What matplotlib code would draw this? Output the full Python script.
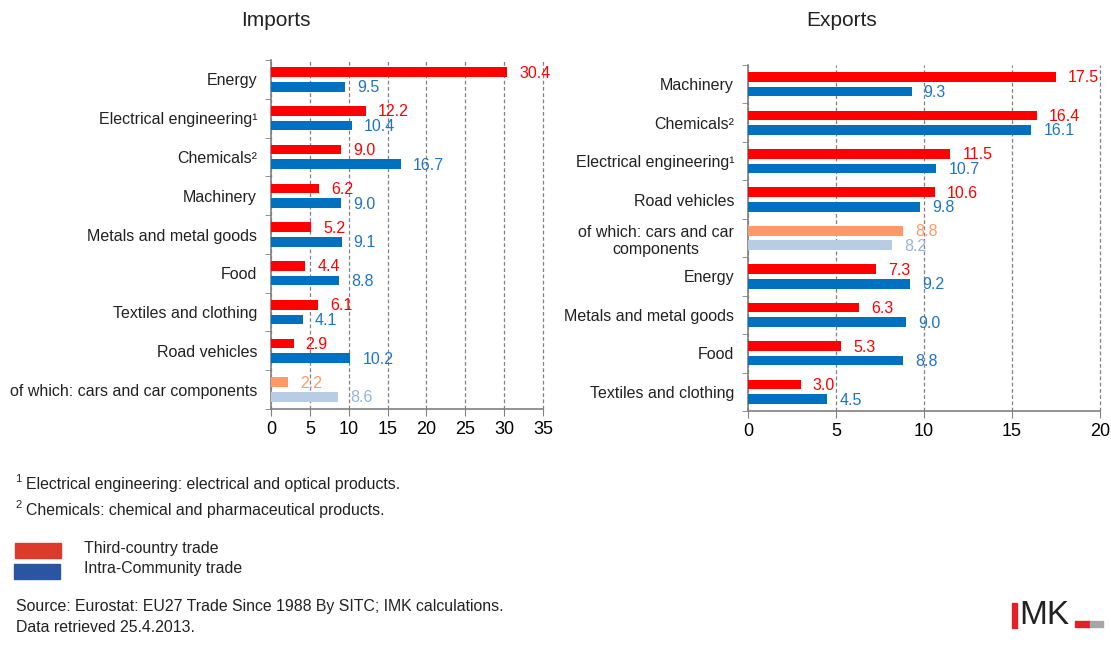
import numpy as np
import matplotlib
matplotlib.use("Agg")
import matplotlib.pyplot as plt
from matplotlib.patches import Rectangle

plt.rcParams["font.family"] = ["Liberation Sans", "DejaVu Sans"]

# Imports
imp_cats = ["Energy", "Electrical engineering¹", "Chemicals²", "Machinery",
            "Metals and metal goods", "Food", "Textiles and clothing",
            "Road vehicles", "of which: cars and car components"]
imp_third = [30.4, 12.2, 9.0, 6.2, 5.2, 4.4, 6.1, 2.9, 2.2]
imp_intra = [9.5, 10.4, 16.7, 9.0, 9.1, 8.8, 4.1, 10.2, 8.6]
imp_sub = 8  # index of the "of which" row

# Exports
exp_cats = ["Machinery", "Chemicals²", "Electrical engineering¹", "Road vehicles",
            "of which: cars and car\ncomponents", "Energy",
            "Metals and metal goods", "Food", "Textiles and clothing"]
exp_third = [17.5, 16.4, 11.5, 10.6, 8.8, 7.3, 6.3, 5.3, 3.0]
exp_intra = [9.3, 16.1, 10.7, 9.8, 8.2, 9.2, 9.0, 8.8, 4.5]
exp_sub = 4

red, blue = "#FF0000", "#0070C0"
red_lt, blue_lt = "#FF9966", "#B8CCE4"
red_txt, blue_txt = "#FF0000", "#1F74C4"
red_lt_txt, blue_lt_txt = "#FF9966", "#95B3D7"
txt = "#222222"


def draw(ax, cats, third, intra, sub, xmax):
    y = np.arange(len(cats))
    c3 = [red_lt if i == sub else red for i in range(len(cats))]
    ci = [blue_lt if i == sub else blue for i in range(len(cats))]
    ax.barh(y - 0.19, third, height=0.25, color=c3, zorder=3)
    ax.barh(y + 0.19, intra, height=0.25, color=ci, zorder=3)
    for i in range(len(cats)):
        t3 = red_lt_txt if i == sub else red_txt
        ti = blue_lt_txt if i == sub else blue_txt
        ax.annotate(f"{third[i]:.1f}", (third[i], y[i] - 0.19), xytext=(12, -1),
                    textcoords="offset pixels", ha="left", va="center",
                    fontsize=11.5, color=t3)
        ax.annotate(f"{intra[i]:.1f}", (intra[i], y[i] + 0.19), xytext=(12, -1),
                    textcoords="offset pixels", ha="left", va="center",
                    fontsize=11.5, color=ti)
    ax.set_xlim(0, xmax)
    ax.set_ylim(len(cats) - 0.5, -0.5)
    ax.set_xticks(np.arange(0, xmax + 1, 5))
    ax.set_yticks(y)
    ax.set_yticklabels(cats, fontsize=11.5, color=txt)
    for t in ax.get_yticklabels():
        t.set_multialignment("center")
    ax.set_yticks(np.arange(-0.5, len(cats)), minor=True)
    ax.tick_params(axis="y", which="major", length=0, pad=10)
    ax.tick_params(axis="y", which="minor", length=4, color="#808080")
    ax.tick_params(axis="x", length=5, color="#808080", labelsize=13, pad=4)
    ax.xaxis.grid(True, linestyle=(0, (3, 2)), color="#808080", linewidth=0.9, zorder=0)
    for l in ax.get_xgridlines():
        l.set_clip_on(False)
    for s in ["top", "right"]:
        ax.spines[s].set_visible(False)
    for s in ["left", "bottom"]:
        ax.spines[s].set_color("#808080")
        ax.spines[s].set_linewidth(1.2)


fig = plt.figure(figsize=(11.11, 6.48), dpi=100)
ax1 = fig.add_axes([271 / 1111, 1 - 409 / 648, 272 / 1111, 349 / 648])
ax2 = fig.add_axes([748 / 1111, 1 - 411 / 648, 352 / 1111, 346 / 648])
draw(ax1, imp_cats, imp_third, imp_intra, imp_sub, 35)
draw(ax2, exp_cats, exp_third, exp_intra, exp_sub, 20)

fig.text(276 / 1111, 1 - 21 / 648, "Imports", fontsize=15, ha="center", va="center", color=txt)
fig.text(842 / 1111, 1 - 21 / 648, "Exports", fontsize=15, ha="center", va="center", color=txt)

# footnotes
fig.text(15 / 1111, 1 - 479 / 648, "1", fontsize=8, va="center", color=txt)
fig.text(26 / 1111, 1 - 485 / 648, "Electrical engineering: electrical and optical products.",
         fontsize=11.4, va="center", color=txt)
fig.text(15 / 1111, 1 - 505 / 648, "2", fontsize=8, va="center", color=txt)
fig.text(26 / 1111, 1 - 511 / 648, "Chemicals: chemical and pharmaceutical products.",
         fontsize=11.4, va="center", color=txt)

# legend
fig.patches.append(Rectangle((15 / 1111, 1 - 558 / 648), 46 / 1111, 15 / 648,
                             color="#DE3A2C", transform=fig.transFigure))
fig.patches.append(Rectangle((14 / 1111, 1 - 579 / 648), 46 / 1111, 15 / 648,
                             color="#2A55A0", transform=fig.transFigure))
fig.text(84 / 1111, 1 - 549 / 648, "Third-country trade", fontsize=11.4, va="center", color=txt)
fig.text(84 / 1111, 1 - 569 / 648, "Intra-Community trade", fontsize=11.4, va="center", color=txt)

fig.text(16 / 1111, 1 - 607 / 648, "Source: Eurostat: EU27 Trade Since 1988 By SITC; IMK calculations.",
         fontsize=11.4, va="center", color=txt)
fig.text(16 / 1111, 1 - 627 / 648, "Data retrieved 25.4.2013.", fontsize=11.4, va="center", color=txt)

# IMK logo
fig.patches.append(Rectangle((1012 / 1111, 1 - 628 / 648), 5 / 1111, 25 / 648,
                             color="#E3202A", transform=fig.transFigure))
fig.text(1019 / 1111, 1 - 616 / 648, "MK", fontsize=24, va="center", color=txt)
fig.patches.append(Rectangle((1075 / 1111, 1 - 627 / 648), 15 / 1111, 6 / 648,
                             color="#E3202A", transform=fig.transFigure))
fig.patches.append(Rectangle((1090 / 1111, 1 - 627 / 648), 13 / 1111, 6 / 648,
                             color="#A6A6A6", transform=fig.transFigure))

fig.savefig("out.png", dpi=100)
